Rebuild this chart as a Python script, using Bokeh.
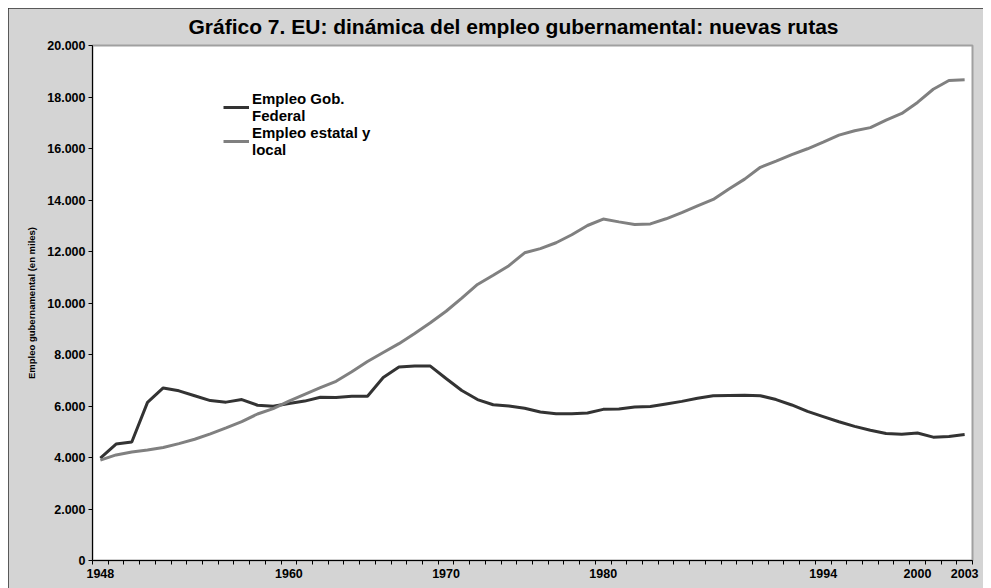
from bokeh.plotting import figure
from bokeh.models import Range1d, FixedTicker, Legend, LegendItem
from bokeh.embed import file_html
from bokeh.resources import INLINE

years = list(range(1948, 2004))
federal = [3980, 4520, 4600, 6140, 6700, 6590, 6400, 6210, 6150, 6250,
           6030, 5990, 6100, 6190, 6340, 6330, 6380, 6380, 7110, 7510,
           7550, 7550, 7070, 6600, 6250, 6050, 6000, 5910, 5770, 5700,
           5700, 5730, 5870, 5880, 5960, 5980, 6080, 6180, 6300, 6400,
           6410, 6420, 6400, 6250, 6040, 5790, 5590, 5390, 5210, 5060,
           4930, 4900, 4950, 4790, 4820, 4890]
state_local = [3900, 4100, 4210, 4290, 4390, 4540, 4710, 4920, 5150, 5390,
               5690, 5900, 6190, 6450, 6710, 6960, 7330, 7730, 8080, 8420,
               8820, 9230, 9680, 10190, 10720, 11080, 11450, 11950, 12110, 12340,
               12650, 13010, 13260, 13150, 13050, 13070, 13270, 13510, 13770, 14020,
               14430, 14810, 15270, 15510, 15760, 15990, 16250, 16520, 16690, 16810,
               17100, 17360, 17790, 18300, 18640, 18670]
x_labels = [1948, 1960, 1970, 1980, 1994, 2000, 2003]
y_ticks = list(range(0, 20001, 2000))

title = "Gráfico 7.  EU: dinámica del empleo gubernamental: nuevas rutas"
y_title = "Empleo gubernamental (en miles)"
name_fed = "Empleo Gob.\nFederal"
name_sl = "Empleo estatal y\nlocal"

p = figure(width=975, height=580, output_backend="svg", toolbar_location=None,
           x_range=Range1d(years[0] - 0.5, years[-1] + 0.5),
           y_range=Range1d(0, 20000),
           min_border_left=84, min_border_right=11, min_border_top=37,
           min_border_bottom=28, title=title)

p.border_fill_color = "#d4d4d4"
p.background_fill_color = "#ffffff"
p.outline_line_color = "#a0a0a0"
p.outline_line_width = 2
p.grid.visible = False
p.styles = {"margin": "8px 0px 0px 8px", "outline": "1px solid #303030",
            "outline-offset": "-1px"}

p.title.align = "left"
p.title.offset = 96
p.title.vertical_align = "top"
p.title.text_font = "Liberation Sans"
p.title.text_font_style = "bold"
p.title.text_font_size = "21px"
p.title.text_color = "#000000"
p.title.standoff = 11

r1 = p.line(years, federal, line_color="#333333", line_width=3)
r2 = p.line(years, state_local, line_color="#808080", line_width=3)

xa = p.xaxis[0]
xa.ticker = FixedTicker(ticks=x_labels, minor_ticks=[y - 0.5 for y in years] + [years[-1] + 0.5])
xa.major_tick_line_color = None
xa.major_tick_out = 4
xa.major_tick_in = 0
xa.minor_tick_out = 4
xa.minor_tick_in = 0
xa.minor_tick_line_color = "#000000"
xa.axis_line_color = "#000000"
xa.major_label_standoff = 4
xa.major_label_text_font = "Liberation Sans"
xa.major_label_text_font_style = "bold"
xa.major_label_text_font_size = "12.5px"
xa.major_label_text_color = "#000000"

ya = p.yaxis[0]
ya.ticker = FixedTicker(ticks=y_ticks, minor_ticks=[])
ya.major_label_overrides = {t: f"{t:,}".replace(",", ".") for t in y_ticks}
ya.major_tick_out = 4
ya.major_tick_in = 0
ya.major_tick_line_color = "#000000"
ya.axis_line_color = "#000000"
ya.major_label_standoff = 3
ya.major_label_text_font = "Liberation Sans"
ya.major_label_text_font_style = "bold"
ya.major_label_text_font_size = "12.5px"
ya.major_label_text_color = "#000000"
ya.axis_label = y_title
ya.axis_label_text_font = "Liberation Sans"
ya.axis_label_text_font_style = "bold"
ya.axis_label_text_font_size = "9.5px"
ya.axis_label_text_color = "#000000"
ya.axis_label_standoff = 7

legend = Legend(items=[LegendItem(label=name_fed, renderers=[r1]),
                       LegendItem(label=name_sl, renderers=[r2])],
                location=(131, 402))
legend.border_line_color = None
legend.background_fill_alpha = 0
legend.padding = 0
legend.margin = 0
legend.spacing = 0
legend.glyph_width = 26
legend.label_standoff = 3
legend.label_text_font = "Liberation Sans"
legend.label_text_font_style = "bold"
legend.label_text_font_size = "15px"
legend.label_text_line_height = 1.22
legend.label_text_color = "#000000"
p.add_layout(legend)

open("out.html", "w").write(file_html(p, INLINE))
